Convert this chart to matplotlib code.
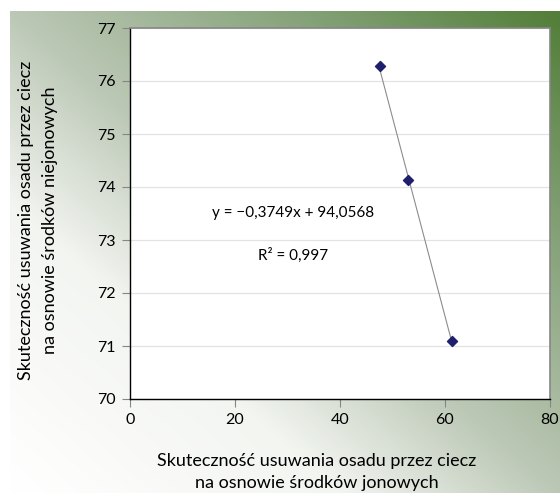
import matplotlib
matplotlib.use("Agg")
import matplotlib.pyplot as plt
import numpy as np
from matplotlib.colors import LinearSegmentedColormap

plt.rcParams['font.family'] = ['Lato', 'DejaVu Sans']

# data
x_ionic = [47.6, 52.9, 61.4]
y_nonionic = [76.28, 74.13, 71.10]

# trend line as printed on the chart
slope = -0.3749
intercept = 94.0568
eq_text = "y = \u22120,3749x + 94,0568"
r2_text = "R\u00b2 = 0,997"

xticks = [0, 20, 40, 60, 80]
yticks = [70, 71, 72, 73, 74, 75, 76, 77]

xlabel = "Skuteczno\u015b\u0107 usuwania osadu przez ciecz\nna osnowie \u015brodk\u00f3w jonowych"
ylabel = "Skuteczno\u015b\u0107 usuwania osadu przez ciecz\nna osnowie \u015brodk\u00f3w niejonowych"

W, H = 560, 493
fig = plt.figure(figsize=(W / 100, H / 100), dpi=100)
fig.patch.set_facecolor("white")

# green gradient background (top right dark -> bottom left white)
bg = fig.add_axes([10 / W, 0, 1 - 10 / W, (H - 11) / H], zorder=-5)
u = np.linspace(0, 1, 300)
v = np.linspace(1, 0, 300)
uu, vv = np.meshgrid(u, v)
t = (uu + vv) / 2
cmap = LinearSegmentedColormap.from_list(
    "bg", [(0, "#ffffff"), (0.3, "#f3f5f1"), (0.5, "#bcc8b6"),
           (0.75, "#88a47c"), (1, "#527e38")])
bg.imshow(t, cmap=cmap, aspect="auto", extent=[0, 1, 0, 1], vmin=0, vmax=1)
bg.axis("off")

ax = fig.add_axes([130 / W, 1 - 399 / H, 420 / W, 371 / H])
ax.set_facecolor("white")

ax.scatter(x_ionic, y_nonionic, marker="D", s=26, color="#1f1f6e", zorder=4)
xt = np.array([min(x_ionic), max(x_ionic)])
ax.plot(xt, slope * xt + intercept, color="#8c8c8c", lw=0.8, zorder=3)

ax.text(31.0, 73.51, eq_text, ha="center", va="center", fontsize=11)
ax.text(31.0, 72.72, r2_text, ha="center", va="center", fontsize=11)

ax.set_xlim(0, 80)
ax.set_ylim(70, 77)
ax.set_xticks(xticks)
ax.set_yticks(yticks)
ax.tick_params(direction="out", length=6, width=0.8, color="#868686",
               labelsize=11.5, pad=4)
ax.grid(axis="y", color="#e3e3e3", lw=0.9)
ax.set_axisbelow(True)
for s in ["left", "bottom"]:
    ax.spines[s].set_color("black")
    ax.spines[s].set_linewidth(1.0)
for s in ["top", "right"]:
    ax.spines[s].set_color("#868686")
    ax.spines[s].set_linewidth(1.2)

fig.text(317 / W, 1 - 472 / H, xlabel, ha="center", va="center",
         fontsize=13, linespacing=1.45)
fig.text(38 / W, 1 - 220 / H, ylabel, ha="center", va="center",
         rotation=90, fontsize=13, linespacing=1.55)

fig.savefig("out.png", dpi=100)
